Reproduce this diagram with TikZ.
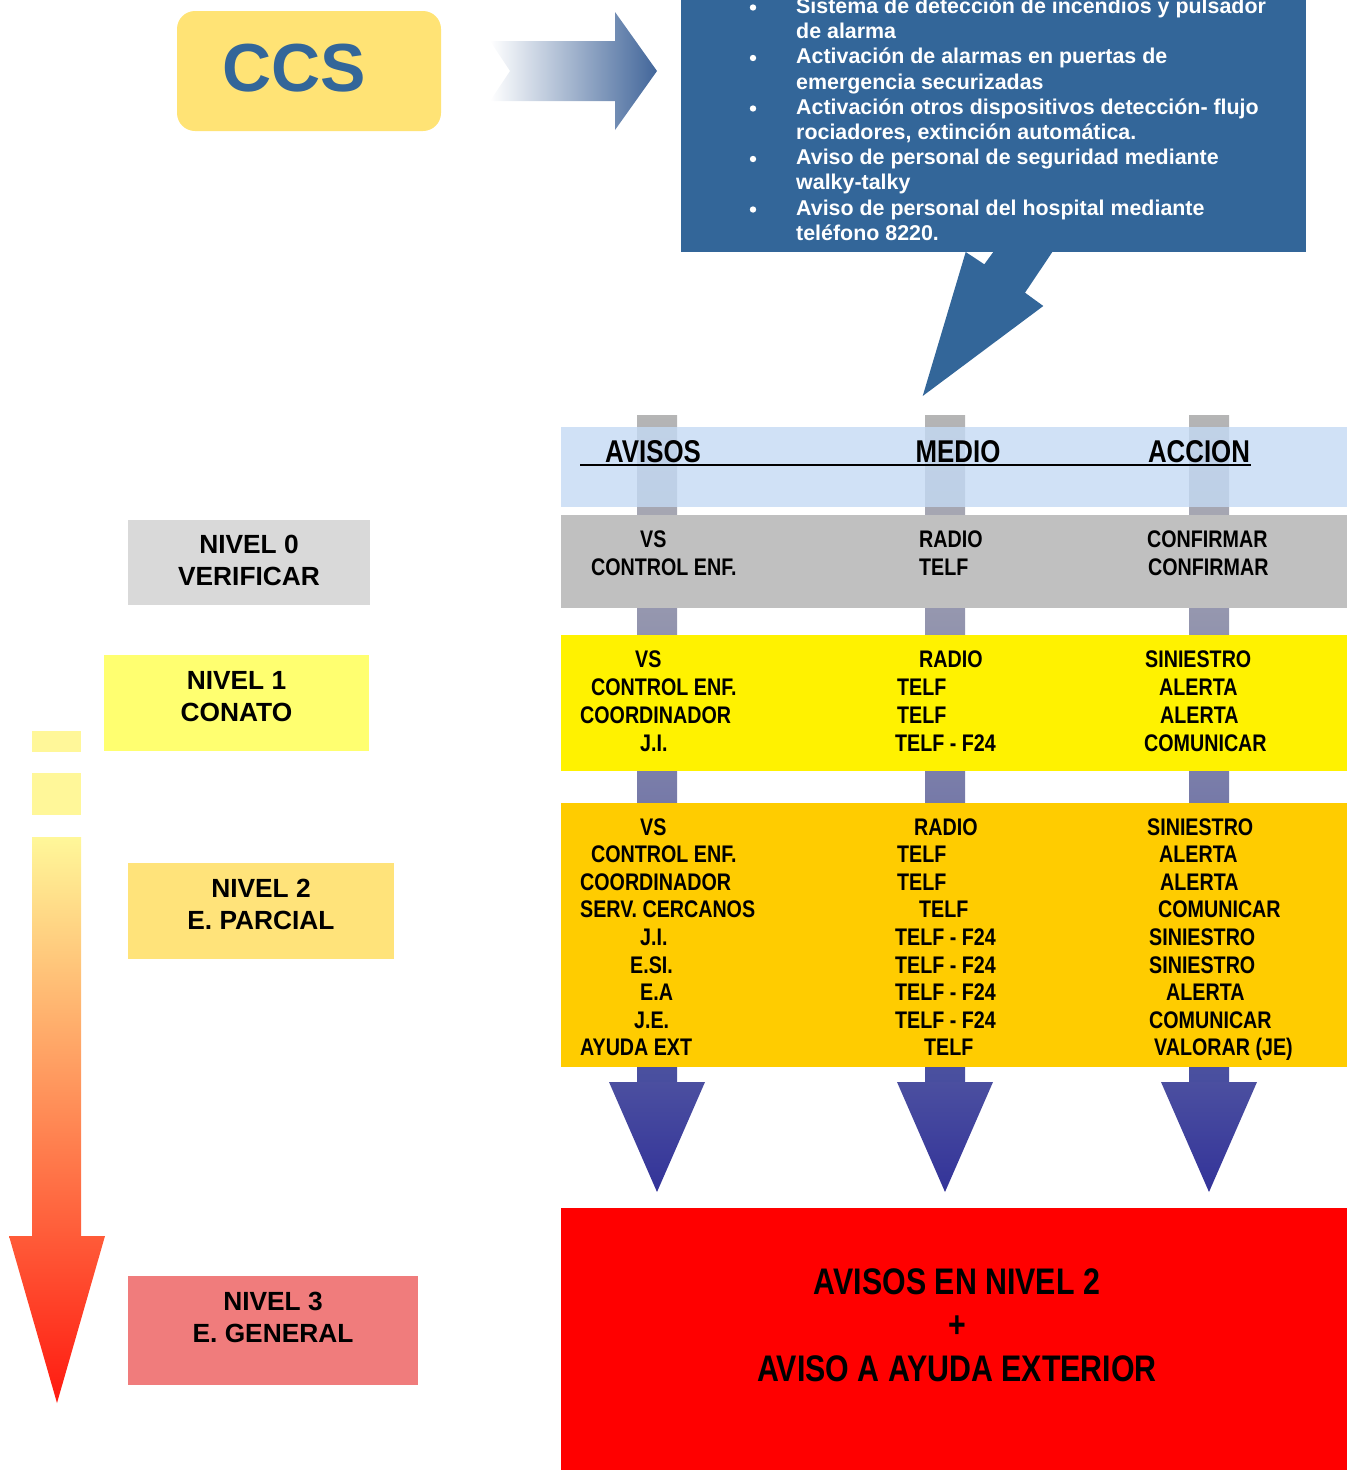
\documentclass[tikz,border=0pt]{standalone}
\usepackage{fontspec}
\setmainfont{Liberation Sans}
\newfontfamily\narrowfont[FakeStretch=0.82]{Liberation Sans}

\definecolor{ccsblue}{HTML}{336699}
\definecolor{ccsfill}{HTML}{FFE375}
\definecolor{arrowblue}{HTML}{42669A}
\definecolor{bandblue}{HTML}{C4DAF4}
\definecolor{rowgray}{HTML}{C0C0C0}
\definecolor{rowgold}{HTML}{FFCC00}
\definecolor{bartop}{HTML}{B5B5B5}
\definecolor{barmid}{HTML}{9C9CB8}
\definecolor{barbot}{HTML}{484E9F}
\definecolor{headtop}{HTML}{4B4FA0}
\definecolor{headbot}{HTML}{333399}
\definecolor{lvlgray}{HTML}{D9D9D9}
\definecolor{lvlyellow}{HTML}{FFFF70}
\definecolor{lvlgold}{HTML}{FFE37A}
\definecolor{lvlred}{HTML}{F07C7C}
\definecolor{riskpale}{HTML}{FFF799}
\definecolor{riskmid}{HTML}{FDA366}
\definecolor{riskred}{HTML}{FF1A10}

\tikzset{
	celltxt/.style={anchor=base west, inner sep=0pt, font=\narrowfont\bfseries\fontsize{24}{28}\selectfont},
	headtxt/.style={anchor=base, inner sep=0pt, font=\narrowfont\bfseries\fontsize{31.5}{36}\selectfont},
	calltxt/.style={anchor=base west, inner sep=0pt, text=white, font=\bfseries\fontsize{21.4}{25}\selectfont},
	lvltxt/.style={inner sep=0pt, align=center, font=\bfseries\fontsize{26.3}{32.5}\selectfont},
}

\begin{document}
\begin{tikzpicture}[x=1pt, y=-1pt]
		\useasboundingbox (0,0) rectangle (1347,1470);
		\clip (0,0) rectangle (1347,1470);
		
		%CCS block and arrow
		\node[rounded corners=18pt, fill=ccsfill, minimum width=264pt, minimum height=120pt] (ccs) at (309,71) {};
		\node[inner sep=0pt, text=ccsblue, font=\bfseries\fontsize{68}{70}\selectfont] (ccslbl) at (294.5,68) {CCS};
		\shade[left color=white, right color=arrowblue] (490,41) -- (615,41) -- (615,12) -- (657,71) -- (615,130) -- (615,101) -- (490,101) -- (510,71) -- cycle;
		
		%callout
		\fill[ccsblue] (681,-20) rectangle (1306,252);
		\fill[ccsblue] (993.3,248) -- (1055,248) -- (1025,292.7) -- (1043.3,306) -- (922.7,396) -- (965.7,252) -- (984.3,264.3) -- (993.3,252) -- cycle;
		\foreach \k in {0,...,4}{
			\fill[white] (753,{7.5+50.5*\k}) circle (3.2pt);
		}
		\foreach \t [count=\i] in {Sistema de detección de incendios y pulsador, de alarma,
			Activación de alarmas en puertas de, emergencia securizadas,
			Activación otros dispositivos detección- flujo, {rociadores, extinción automática.},
			Aviso de personal de seguridad mediante, walky-talky,
			Aviso de personal del hospital mediante, teléfono 8220.}{
			\node[calltxt] (call\i) at (796,{13.5+25.2*(\i-1)}) {\t};
		}
		
		%columns
		\foreach \cx in {657, 945, 1209}{
			\shade[top color=bartop, middle color=barmid, bottom color=barbot] ({\cx-20},415) rectangle ({\cx+20},1083);
			\shade[top color=headtop, bottom color=headbot] ({\cx-48},1082) -- ({\cx+48},1082) -- (\cx,1192) -- cycle;
		}
		
		%header
		\fill[bandblue, opacity=0.8] (561,427) rectangle (1347,507);
		\draw[line width=2.5pt] (580,465) -- (1251,465);
		\node[headtxt] (havisos) at (653,462) {AVISOS};
		\node[headtxt] (hmedio) at (958,462) {MEDIO};
		\node[headtxt] (haccion) at (1199,462) {ACCION};
		
		%nivel 0
		\fill[rowgray] (561,515) rectangle (1347,608);
		\foreach \x/\t [count=\i] in {640/VS, 591/CONTROL ENF.}
			\node[celltxt] (a0\i) at (\x,{547+28*(\i-1)}) {\t};
		\foreach \x/\t [count=\i] in {919/RADIO, 919/TELF}
			\node[celltxt] (m0\i) at (\x,{547+28*(\i-1)}) {\t};
		\foreach \x/\t [count=\i] in {1147/CONFIRMAR, 1148/CONFIRMAR}
			\node[celltxt] (c0\i) at (\x,{547+28*(\i-1)}) {\t};
		
		%nivel 1
		\fill[yellow] (561,635) rectangle (1347,771);
		\foreach \x/\t [count=\i] in {635/VS, 591/CONTROL ENF., 580/COORDINADOR, 640/J.I.}
			\node[celltxt] (a1\i) at (\x,{667+28*(\i-1)}) {\t};
		\foreach \x/\t [count=\i] in {919/RADIO, 897/TELF, 897/TELF, 895/TELF - F24}
			\node[celltxt] (m1\i) at (\x,{667+28*(\i-1)}) {\t};
		\foreach \x/\t [count=\i] in {1145/SINIESTRO, 1159/ALERTA, 1160/ALERTA, 1144/COMUNICAR}
			\node[celltxt] (c1\i) at (\x,{667+28*(\i-1)}) {\t};
		
		%nivel 2
		\fill[rowgold] (561,803) rectangle (1347,1067);
		\foreach \x/\t [count=\i] in {640/VS, 591/CONTROL ENF., 580/COORDINADOR, 580/SERV. CERCANOS,
			640/J.I., 630/E.SI., 640/E.A, 634/J.E., 580/AYUDA EXT}
			\node[celltxt] (a2\i) at (\x,{835+27.6*(\i-1)}) {\t};
		\foreach \x/\t [count=\i] in {914/RADIO, 897/TELF, 897/TELF, 919/TELF, 895/TELF - F24,
			895/TELF - F24, 895/TELF - F24, 895/TELF - F24, 924/TELF}
			\node[celltxt] (m2\i) at (\x,{835+27.6*(\i-1)}) {\t};
		\foreach \x/\t [count=\i] in {1147/SINIESTRO, 1159/ALERTA, 1160/ALERTA, 1158/COMUNICAR,
			1149/SINIESTRO, 1149/SINIESTRO, 1166/ALERTA, 1149/COMUNICAR, 1154/VALORAR (JE)}
			\node[celltxt] (c2\i) at (\x,{835+27.6*(\i-1)}) {\t};
		
		%nivel 3
		\fill[red] (561,1208) rectangle (1347,1480);
		\node[inner sep=0pt, align=center, font=\narrowfont\bfseries\fontsize{37}{43.5}\selectfont] (gentxt) at (957,1325) {AVISOS EN NIVEL 2\\+\\AVISO A AYUDA EXTERIOR};
		
		%levels
		\fill[lvlgray] (128,520) rectangle (370,605);
		\fill[lvlyellow] (104,655) rectangle (369,751);
		\fill[lvlgold] (128,863) rectangle (394,959);
		\fill[lvlred] (128,1276) rectangle (418,1385);
		\node[lvltxt] (lvl0) at (249,560.5) {NIVEL 0\\VERIFICAR};
		\node[lvltxt] (lvl1) at (236.5,696.5) {NIVEL 1\\CONATO};
		\node[lvltxt] (lvl2) at (261,904.5) {NIVEL 2\\E. PARCIAL};
		\node[lvltxt] (lvl3) at (273,1317.5) {NIVEL 3\\E. GENERAL};
		
		%escalation arrow
		\fill[riskpale] (32,731) rectangle (81,752);
		\fill[riskpale] (32,773) rectangle (81,815);
		\shade[top color=riskpale, middle color=riskmid, bottom color=riskred] (32,837) -- (81,837) -- (81,1236) -- (105,1236) -- (57,1403) -- (9,1236) -- (32,1236) -- cycle;
\end{tikzpicture}
\end{document}
